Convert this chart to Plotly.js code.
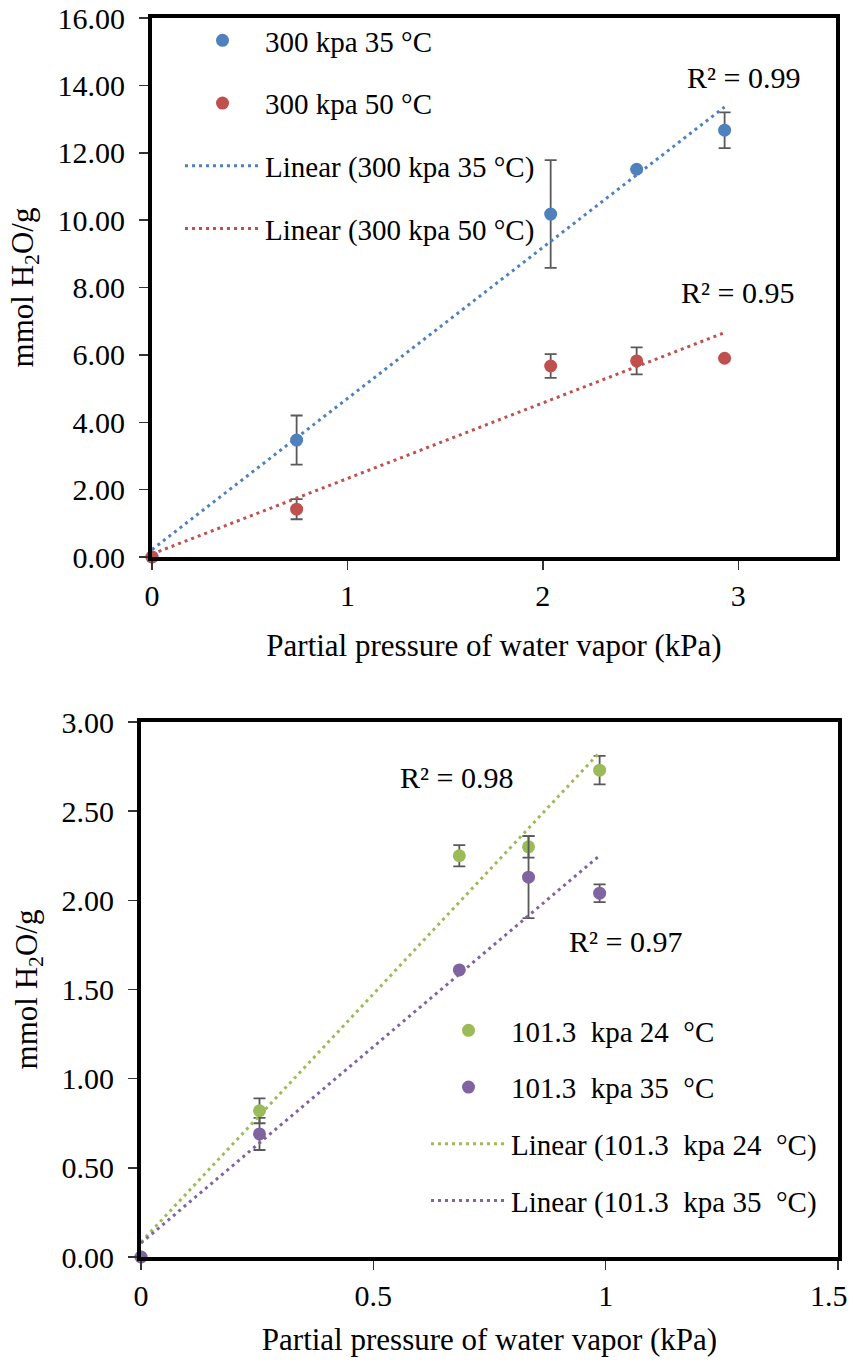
<!DOCTYPE html>
<html>
<head>
<meta charset="utf-8">
<script src="https://cdn.plot.ly/plotly-3.0.1.min.js"></script>
<style>html,body{margin:0;padding:0;background:#fff;}#chart{width:853px;height:1362px;}</style>
</head>
<body>
<div id="chart"></div>
<script>
// ---- Data: top chart (300 kPa) ----
const xTop = [0, 0.74, 2.04, 2.48, 2.93];
const y300_35 = [0, 3.47, 10.18, 11.51, 12.67];
const err300_35 = [0, 0.73, 1.60, 0, 0.53];
const y300_50 = [0, 1.42, 5.67, 5.82, 5.90];
const err300_50 = [0, 0.30, 0.35, 0.40, 0];
const namesTop = ["300 kpa 35 °C", "300 kpa 50 °C"];
const r2Top = ["R² = 0.99", "R² = 0.95"];

// ---- Data: bottom chart (101.3 kPa) ----
const xBot = [0, 0.255, 0.685, 0.834, 0.987];
const y101_24 = [0, 0.82, 2.25, 2.30, 2.73];
const err101_24 = [0, 0.07, 0.06, 0.06, 0.08];
const y101_35 = [0, 0.69, 1.61, 2.13, 2.04];
const err101_35 = [0, 0.09, 0, 0.23, 0.05];
const namesBot = ["101.3\u00a0 kpa 24\u00a0 °C", "101.3\u00a0 kpa 35\u00a0 °C"];
const r2Bot = ["R² = 0.98", "R² = 0.97"];
const xBotTickVals = [0, 0.5, 1, 1.5];
const xBotTickText = ["0", "0.5", "1", "1.5"];

// least-squares linear trendline (as the spreadsheet trendline)
function fit(x, y) {
  const n = x.length;
  const mx = x.reduce((a, b) => a + b, 0) / n;
  const my = y.reduce((a, b) => a + b, 0) / n;
  let sxy = 0, sxx = 0;
  for (let i = 0; i < n; i++) { sxy += (x[i] - mx) * (y[i] - my); sxx += (x[i] - mx) ** 2; }
  const m = sxy / sxx, b = my - m * mx;
  const xs = [Math.min(...x), Math.max(...x)];
  return { x: xs, y: xs.map(v => m * v + b) };
}

const C = { blue: "#4F81BD", red: "#C0504D", green: "#9BBB59", purple: "#8064A2" };
const FONT = "Liberation Serif";

function pts(x, y, e, name, color, xa, ya, leg, grp) {
  return {
    x: x, y: y, type: "scatter", mode: "markers", name: name,
    xaxis: xa, yaxis: ya, legend: leg, legendgroup: grp, cliponaxis: false,
    marker: { color: color, size: 13 },
    error_y: { type: "data", array: e, visible: true, color: "#595959", thickness: 1.8, width: 6 }
  };
}
function trend(x, y, name, color, xa, ya, leg, grp) {
  const f = fit(x, y);
  return {
    x: f.x, y: f.y, type: "scatter", mode: "lines", name: name,
    xaxis: xa, yaxis: ya, legend: leg, legendgroup: grp, cliponaxis: false,
    line: { color: color, width: 3, dash: "3px,4px" }
  };
}

const data = [
  pts(xTop, y300_35, err300_35, namesTop[0], C.blue, "x", "y", "legend", "a"),
  pts(xTop, y300_50, err300_50, namesTop[1], C.red, "x", "y", "legend", "b"),
  trend(xTop, y300_35, "Linear (" + namesTop[0] + ")", C.blue, "x", "y", "legend", "c"),
  trend(xTop, y300_50, "Linear (" + namesTop[1] + ")", C.red, "x", "y", "legend", "d"),
  pts(xBot, y101_24, err101_24, namesBot[0], C.green, "x2", "y2", "legend2", "e"),
  pts(xBot, y101_35, err101_35, namesBot[1], C.purple, "x2", "y2", "legend2", "f"),
  trend(xBot, y101_24, "Linear (" + namesBot[0] + ")", C.green, "x2", "y2", "legend2", "g"),
  trend(xBot, y101_35, "Linear (" + namesBot[1] + ")", C.purple, "x2", "y2", "legend2", "h")
];

const W = 853, H = 1362;
function ax(extra) {
  const base = {
    showline: true, linewidth: 4, linecolor: "#000", mirror: true,
    ticks: "outside", ticklen: 9, tickwidth: 1.5, tickcolor: "#333",
    showgrid: false, zeroline: false, ticklabeloverflow: "allow",
    tickfont: { family: FONT, size: 30, color: "#000" }
  };
  const out = Object.assign(base, extra);
  out.title = Object.assign({ font: { family: FONT, size: 31, color: "#000" } }, extra.title);
  return out;
}

// last bottom tick label sits at the page edge: drawn as a right-aligned note so it stays inside
const lastIdx = xBotTickText.length - 1;
const botTickTextShown = xBotTickText.map((t, i) => (i === lastIdx ? "" : t));

const layout = {
  width: W, height: H,
  margin: { l: 0, r: 0, t: 0, b: 0 },
  paper_bgcolor: "#fff", plot_bgcolor: "#fff",
  font: { family: FONT, size: 24, color: "#000" },
  xaxis: ax({ domain: [152 / W, 836 / W], range: [0, 3.5], dtick: 1, anchor: "y",
    title: { text: "Partial pressure of water vapor (kPa)", standoff: 24 } }),
  yaxis: ax({ domain: [(H - 557) / H, (H - 18) / H], range: [0, 16], dtick: 2, tickformat: ".2f", anchor: "x",
    ticklabelstandoff: 8,
    title: { text: "mmol H<sub>2</sub>O/g", standoff: 16 } }),
  xaxis2: ax({ domain: [141 / W, 838 / W], range: [0, 1.5], tickmode: "array",
    tickvals: xBotTickVals, ticktext: botTickTextShown, anchor: "y2",
    title: { text: "Partial pressure of water vapor (kPa)", standoff: 18 } }),
  yaxis2: ax({ domain: [(H - 1257) / H, (H - 722) / H], range: [0, 3], dtick: 0.5, tickformat: ".2f", anchor: "x2",
    ticklabelstandoff: 8,
    title: { text: "mmol H<sub>2</sub>O/g", standoff: 16 } }),
  legend: {
    x: 180 / W, y: (H - 15) / H, xanchor: "left", yanchor: "top", itemwidth: 75,
    bgcolor: "rgba(0,0,0,0)", font: { family: FONT, size: 29, color: "#000" },
    traceorder: "grouped", tracegroupgap: 22
  },
  legend2: {
    x: 426 / W, y: (H - 1005) / H, xanchor: "left", yanchor: "top", itemwidth: 75,
    bgcolor: "rgba(0,0,0,0)", font: { family: FONT, size: 29, color: "#000" },
    traceorder: "grouped", tracegroupgap: 16
  },
  showlegend: true,
  annotations: [
    { xref: "x", yref: "y", x: 3.026, y: 14.22, text: r2Top[0], showarrow: false, font: { family: FONT, size: 30 } },
    { xref: "x", yref: "y", x: 2.995, y: 7.84, text: r2Top[1], showarrow: false, font: { family: FONT, size: 30 } },
    { xref: "x2", yref: "y2", x: 0.68, y: 2.69, text: r2Bot[0], showarrow: false, font: { family: FONT, size: 30 } },
    { xref: "x2", yref: "y2", x: 1.042, y: 1.767, text: r2Bot[1], showarrow: false, font: { family: FONT, size: 30 } },
    { xref: "x2", yref: "y2", x: xBotTickVals[lastIdx], y: 0, text: xBotTickText[lastIdx], showarrow: false,
      xanchor: "right", yanchor: "middle", xshift: 12, yshift: -38, font: { family: FONT, size: 30, color: "#000" } }
  ]
};

Plotly.newPlot("chart", data, layout, { staticPlot: true, displayModeBar: false });
</script>
</body>
</html>
